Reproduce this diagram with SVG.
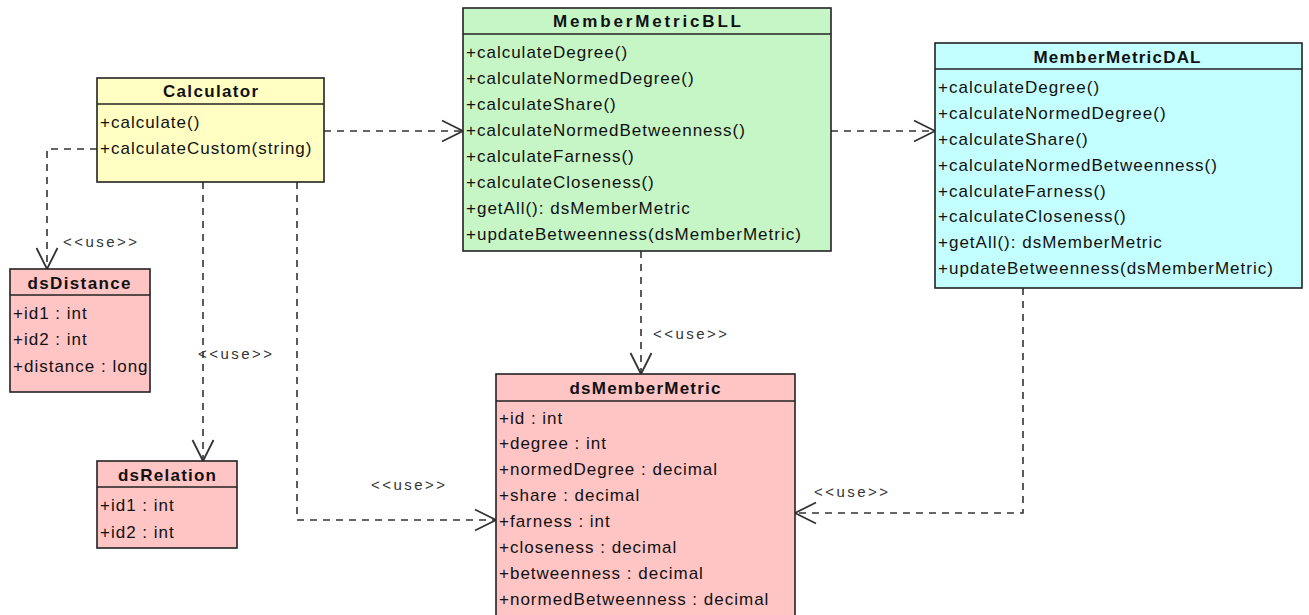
<svg xmlns="http://www.w3.org/2000/svg" width="1309" height="615" viewBox="0 0 1309 615">
<defs>
<marker id="open" viewBox="0 0 24 24" refX="22" refY="12" markerWidth="24" markerHeight="24" markerUnits="userSpaceOnUse" orient="auto">
<path d="M1,1.5 L22,12 L1,22.5" fill="none" stroke="#333" stroke-width="1.8" stroke-dasharray="none"/>
</marker>
<style>
.box{stroke:#222;stroke-width:1.6}
.div{stroke:#222;stroke-width:1.6}
.yel{fill:#FFFFC4}
.grn{fill:#C6F6C6}
.cyn{fill:#C4FFFF}
.pnk{fill:#FFC4C4}
.title{font-family:"Liberation Sans",Arial,sans-serif;font-weight:bold;font-size:17px;fill:#111;text-anchor:middle}
.item{font-family:"Liberation Sans",Arial,sans-serif;font-size:17px;fill:#111;letter-spacing:1px}
.lbl{font-family:"Liberation Sans",Arial,sans-serif;font-size:15px;fill:#333;text-anchor:middle}
.conn{fill:none;stroke:#333;stroke-width:1.6;stroke-dasharray:7 6}
</style>
</defs>
<rect width="1309" height="615" fill="#fff"/>

<g id="connectors">
<path class="conn" d="M324,131 H463" marker-end="url(#open)"/>
<path class="conn" d="M831,131 H935" marker-end="url(#open)"/>
<path class="conn" d="M97,149 H47 V269" marker-end="url(#open)"/>
<path class="conn" d="M203,182 V461" marker-end="url(#open)"/>
<path class="conn" d="M297,182 V520 H496" marker-end="url(#open)"/>
<path class="conn" d="M641,251 V374" marker-end="url(#open)"/>
<path class="conn" d="M1023,288 V513 H795" marker-end="url(#open)"/>
<text class="lbl" x="100" y="247" textLength="74" lengthAdjust="spacing">&lt;&lt;use&gt;&gt;</text>
<text class="lbl" x="235" y="359" textLength="74" lengthAdjust="spacing">&lt;&lt;use&gt;&gt;</text>
<text class="lbl" x="408" y="490" textLength="74" lengthAdjust="spacing">&lt;&lt;use&gt;&gt;</text>
<text class="lbl" x="690" y="339" textLength="74" lengthAdjust="spacing">&lt;&lt;use&gt;&gt;</text>
<text class="lbl" x="851" y="497" textLength="74" lengthAdjust="spacing">&lt;&lt;use&gt;&gt;</text>
</g>

<g id="Calculator">
<rect class="box yel" x="97" y="78" width="227" height="104"/>
<line class="div" x1="97" y1="104" x2="324" y2="104"/>
<text class="title" x="210.5" y="97" textLength="95" lengthAdjust="spacing">Calculator</text>
<text class="item" x="100" y="128">+calculate()</text>
<text class="item" x="100" y="154">+calculateCustom(string)</text>
</g>

<g id="MemberMetricBLL">
<rect class="box grn" x="463" y="8" width="368" height="243"/>
<line class="div" x1="463" y1="34" x2="831" y2="34"/>
<text class="title" x="647" y="27" textLength="188" lengthAdjust="spacing">MemberMetricBLL</text>
<text class="item" x="466" y="58">+calculateDegree()</text>
<text class="item" x="466" y="84">+calculateNormedDegree()</text>
<text class="item" x="466" y="110">+calculateShare()</text>
<text class="item" x="466" y="136">+calculateNormedBetweenness()</text>
<text class="item" x="466" y="162">+calculateFarness()</text>
<text class="item" x="466" y="188">+calculateCloseness()</text>
<text class="item" x="466" y="214">+getAll(): dsMemberMetric</text>
<text class="item" x="466" y="240">+updateBetweenness(dsMemberMetric)</text>
</g>

<g id="MemberMetricDAL">
<rect class="box cyn" x="935" y="43" width="367" height="245"/>
<line class="div" x1="935" y1="69" x2="1302" y2="69"/>
<text class="title" x="1117" y="63" textLength="167" lengthAdjust="spacing">MemberMetricDAL</text>
<text class="item" x="938" y="93">+calculateDegree()</text>
<text class="item" x="938" y="119">+calculateNormedDegree()</text>
<text class="item" x="938" y="145">+calculateShare()</text>
<text class="item" x="938" y="171">+calculateNormedBetweenness()</text>
<text class="item" x="938" y="197">+calculateFarness()</text>
<text class="item" x="938" y="222">+calculateCloseness()</text>
<text class="item" x="938" y="248">+getAll(): dsMemberMetric</text>
<text class="item" x="938" y="274">+updateBetweenness(dsMemberMetric)</text>
</g>

<g id="dsDistance">
<rect class="box pnk" x="10" y="269" width="140" height="123"/>
<line class="div" x1="10" y1="295" x2="150" y2="295"/>
<text class="title" x="79" y="289" textLength="103" lengthAdjust="spacing">dsDistance</text>
<text class="item" x="13" y="319">+id1 : int</text>
<text class="item" x="13" y="345">+id2 : int</text>
<text class="item" x="13" y="372">+distance : long</text>
</g>

<g id="dsRelation">
<rect class="box pnk" x="97" y="461" width="140" height="87"/>
<line class="div" x1="97" y1="487" x2="237" y2="487"/>
<text class="title" x="167" y="481" textLength="98" lengthAdjust="spacing">dsRelation</text>
<text class="item" x="100" y="511">+id1 : int</text>
<text class="item" x="100" y="538">+id2 : int</text>
</g>

<g id="dsMemberMetric">
<rect class="box pnk" x="496" y="374" width="299" height="260"/>
<line class="div" x1="496" y1="401" x2="795" y2="401"/>
<text class="title" x="645" y="394" textLength="151" lengthAdjust="spacing">dsMemberMetric</text>
<text class="item" x="499" y="424">+id : int</text>
<text class="item" x="499" y="449">+degree : int</text>
<text class="item" x="499" y="475">+normedDegree : decimal</text>
<text class="item" x="499" y="501">+share : decimal</text>
<text class="item" x="499" y="527">+farness : int</text>
<text class="item" x="499" y="553">+closeness : decimal</text>
<text class="item" x="499" y="579">+betweenness : decimal</text>
<text class="item" x="499" y="605">+normedBetweenness : decimal</text>
</g>
</svg>
